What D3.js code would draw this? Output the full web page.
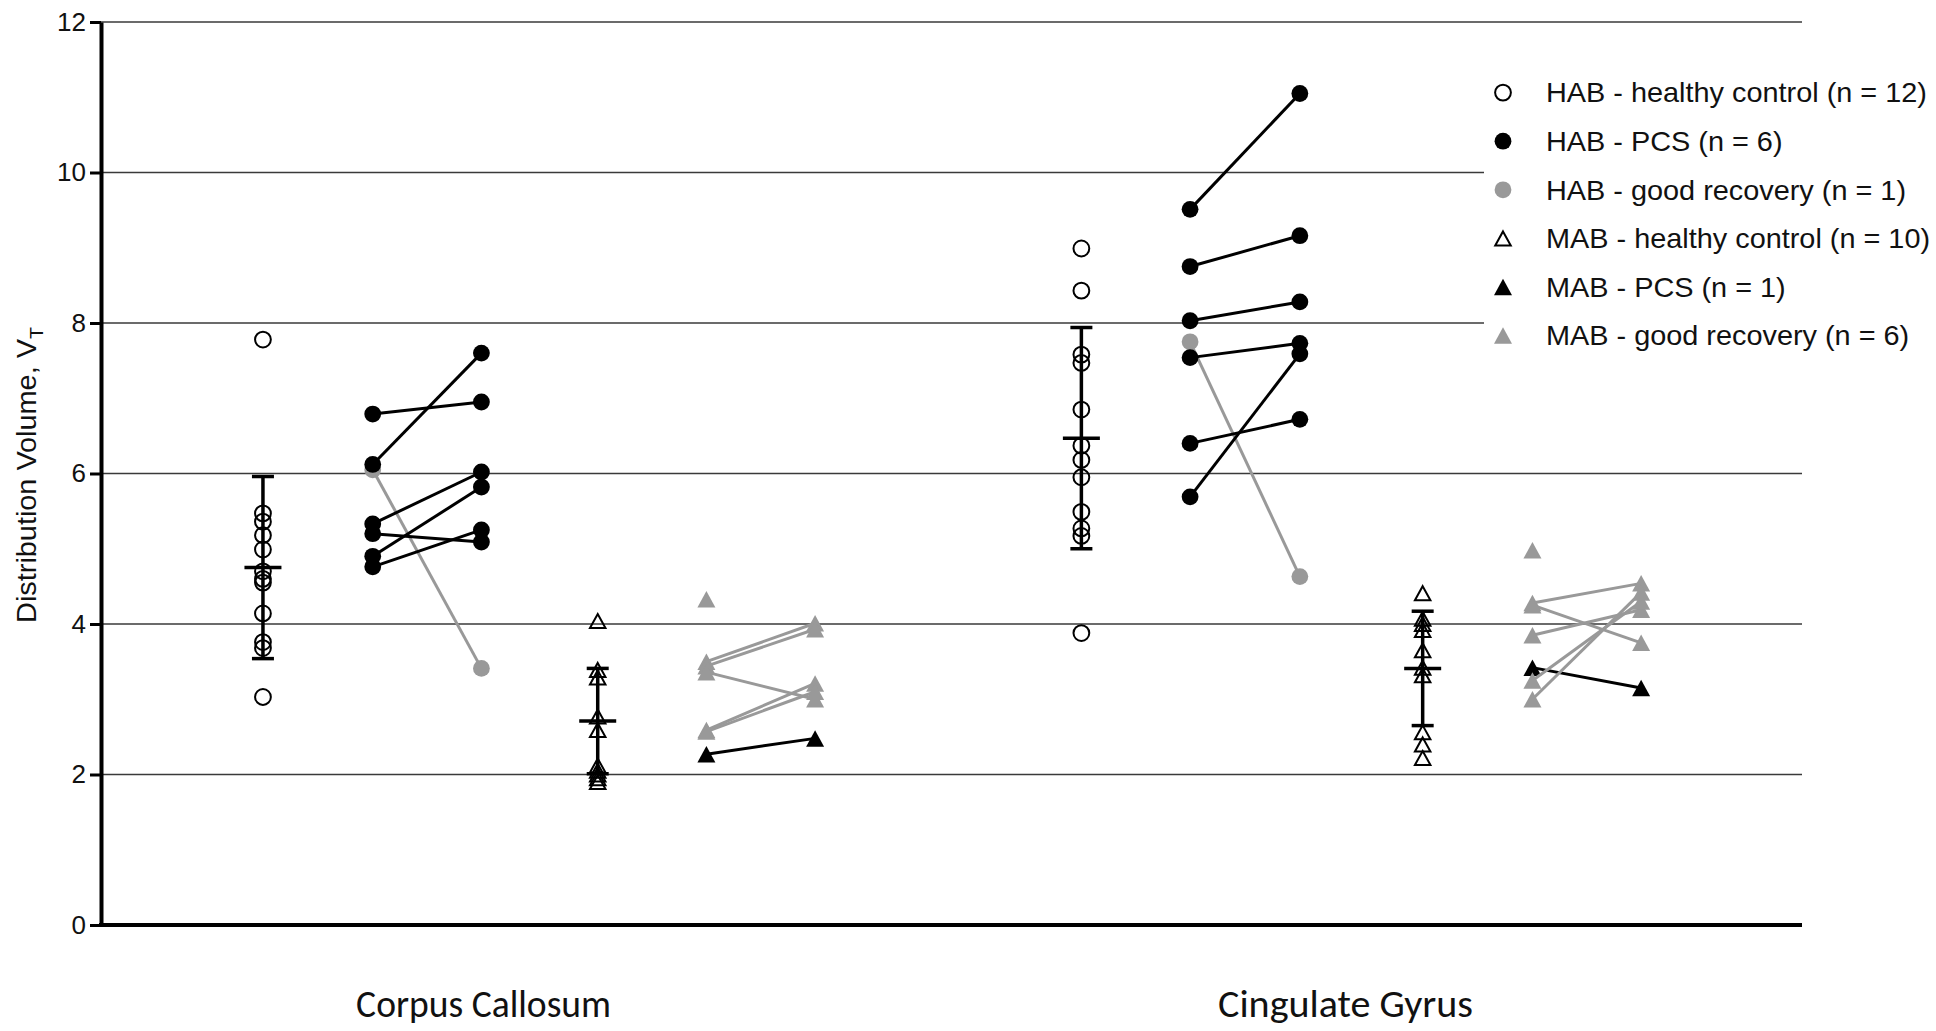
<!DOCTYPE html>
<html>
<head>
<meta charset="utf-8">
<script src="https://d3js.org/d3.v7.min.js"></script>
<style>
  html, body { margin: 0; padding: 0; background: #fff; }
  svg { display: block; }
</style>
</head>
<body>
<svg id="chart"></svg>
<script>
// Distribution volume (VT) per region: healthy controls (mean +/- SD) and
// paired baseline / follow-up values for PCS and good-recovery patients.

const regions = ["Corpus Callosum", "Cingulate Gyrus"];

// healthy controls, one array per region
const habControl = [
    [7.78, 5.47, 5.36, 5.18, 4.99, 4.70, 4.60, 4.55, 4.14, 3.76, 3.68, 3.03],
    [8.99, 8.43, 7.58, 7.47, 6.85, 6.37, 6.18, 5.95, 5.49, 5.27, 5.17, 3.88]
];
const mabControl = [
    [4.04, 3.39, 3.29, 2.77, 2.59, 2.12, 2.05, 2.00, 1.95, 1.90],
    [4.41, 4.07, 4.00, 3.92, 3.65, 3.42, 3.32, 2.56, 2.40, 2.22]
];
// error bars (mean, SD)
const habControlMean = [4.75, 6.47];
const habControlSD = [1.21, 1.47];
const mabControlMean = [2.71, 3.41];
const mabControlSD = [0.70, 0.76];

// patients: baseline -> follow-up (null = no follow-up scan)
const habPcsPre = [[6.79, 6.12, 5.33, 5.20, 4.90, 4.76], [9.51, 8.75, 8.03, 7.54, 6.40, 5.69]];
const habPcsPost = [[6.95, 7.60, 6.02, 5.09, 5.82, 5.25], [11.05, 9.16, 8.28, 7.73, 6.72, 7.59]];
const habRecPre = [[6.05], [7.75]];
const habRecPost = [[3.41], [4.63]];
const mabPcsPre = [[2.27], [3.42]];
const mabPcsPost = [[2.48], [3.15]];
const mabRecPre = [[4.33, 3.50, 3.44, 3.36, 2.59, 2.57], [4.98, 4.28, 4.25, 3.85, 3.25, 3.00]];
const mabRecPost = [[null, 4.01, 3.93, 3.00, 3.21, 3.10], [null, 4.54, 3.75, 4.19, 4.30, 4.42]];

const yTicks = [0, 2, 4, 6, 8, 10, 12];
const legendLabels = [
    "HAB - healthy control (n = 12)",
    "HAB - PCS (n = 6)",
    "HAB - good recovery (n = 1)",
    "MAB - healthy control (n = 10)",
    "MAB - PCS (n = 1)",
    "MAB - good recovery (n = 6)"
];

// ---- layout ----
const width = 1936, height = 1031;
const margin = {top: 22, right: 134, bottom: 106, left: 101};
const GRAY = "#999999";

// column slots (x scale units) for each region
const slots = [
    {habHc: 1.49, habPre: 2.50, habPost: 3.50, mabHc: 4.57, mabPre: 5.57, mabPost: 6.57, label: 3.52},
    {habHc: 9.02, habPre: 10.02, habPost: 11.03, mabHc: 12.16, mabPre: 13.17, mabPost: 14.17, label: 11.45}
];

const svg = d3.select("#chart").attr("width", width).attr("height", height);

const x = d3.scaleLinear().domain([0, 15.65]).range([margin.left, width - margin.right]);
const y = d3.scaleLinear().domain([0, 12]).range([height - margin.bottom, margin.top]);

// triangle with its box centred on the point
function triangle(w, h) {
    return `M0,${-h / 2}L${w / 2},${h / 2}L${-w / 2},${h / 2}Z`;
}

const markers = {
    circleOpen: g => g.append("circle").attr("r", 7.9).attr("fill", "none").attr("stroke", "#000").attr("stroke-width", 2),
    circleBlack: g => g.append("circle").attr("r", 8.4).attr("fill", "#000"),
    circleGray: g => g.append("circle").attr("r", 8.4).attr("fill", GRAY),
    triOpen: g => g.append("path").attr("d", triangle(15.5, 14)).attr("fill", "none").attr("stroke", "#000").attr("stroke-width", 2),
    triBlack: g => g.append("path").attr("d", triangle(18, 16.5)).attr("fill", "#000"),
    triGray: g => g.append("path").attr("d", triangle(18, 16.5)).attr("fill", GRAY)
};

// gridlines
svg.append("g")
    .selectAll("line")
    .data(yTicks.filter(t => t > 0))
    .join("line")
    .attr("x1", margin.left).attr("x2", width - margin.right)
    .attr("y1", d => y(d)).attr("y2", d => y(d))
    .attr("stroke", "#3a3a3a")
    .attr("stroke-width", 1.3);

// legend background hides the gridlines behind it
svg.append("rect")
    .attr("x", 1484).attr("y", 55).attr("width", width - 1484).attr("height", 300)
    .attr("fill", "#fff");

// y axis
const yAxis = svg.append("g")
    .attr("transform", `translate(${margin.left},0)`)
    .call(d3.axisLeft(y).tickValues(yTicks).tickSize(11).tickSizeOuter(0).tickPadding(4));
yAxis.select(".domain").attr("stroke-width", 4).attr("stroke", "#000");
yAxis.selectAll(".tick line").attr("stroke-width", 3).attr("stroke", "#000");
yAxis.selectAll(".tick text")
    .attr("fill", "#111")
    .style("font-family", "'Liberation Sans', Arial, sans-serif")
    .style("font-size", "26px");

// x axis line
svg.append("line")
    .attr("x1", margin.left - 2).attr("x2", width - margin.right)
    .attr("y1", y(0)).attr("y2", y(0))
    .attr("stroke", "#000").attr("stroke-width", 4);

// y axis title, squeezed to the width seen in the figure
const yTitle = svg.append("text")
    .attr("transform", `translate(36,475) rotate(-90)`)
    .attr("text-anchor", "middle")
    .style("font-family", "'Liberation Sans', Arial, sans-serif")
    .style("font-size", "28px")
    .attr("fill", "#111");
yTitle.append("tspan").text("Distribution Volume, V");
yTitle.append("tspan").text("T").attr("font-size", "19px").attr("dy", 7);
const yTitleLen = yTitle.node().getComputedTextLength();
yTitle.attr("transform", `translate(36,475) rotate(-90) scale(${296 / yTitleLen},1)`);

// category labels
regions.forEach((name, r) => {
    const t = svg.append("text")
        .attr("x", 0).attr("y", 0)
        .attr("text-anchor", "middle")
        .style("font-family", "Carlito, Lato, 'Open Sans', sans-serif")
        .style("font-size", "38px")
        .attr("fill", "#111")
        .text(name);
    const len = t.node().getComputedTextLength();
    t.attr("transform", `translate(${x(slots[r].label)},1017) scale(${255 / len},1)`);
});

// draw one paired series
function drawPairs(g, pre, post, x0, x1, color, marker) {
    const pairs = pre.map((v, i) => ({pre: v, post: post[i]}));
    g.append("g")
        .selectAll("line")
        .data(pairs.filter(d => d.post != null))
        .join("line")
        .attr("x1", x0).attr("x2", x1)
        .attr("y1", d => y(d.pre)).attr("y2", d => y(d.post))
        .attr("stroke", color).attr("stroke-width", 3);
    const pts = [];
    pairs.forEach(d => {
        pts.push({cx: x0, v: d.pre});
        if (d.post != null) pts.push({cx: x1, v: d.post});
    });
    g.append("g")
        .selectAll("g")
        .data(pts)
        .join("g")
        .attr("transform", d => `translate(${d.cx},${y(d.v)})`)
        .each(function () { marker(d3.select(this)); });
}

function drawControl(g, values, mean, sd, cx, marker) {
    g.append("g")
        .selectAll("g")
        .data(values)
        .join("g")
        .attr("transform", d => `translate(${cx},${y(d)})`)
        .each(function () { marker(d3.select(this)); });
    const bar = g.append("g").attr("stroke", "#000").attr("stroke-width", 3.5);
    bar.append("line").attr("x1", cx).attr("x2", cx).attr("y1", y(mean - sd)).attr("y2", y(mean + sd));
    bar.append("line").attr("x1", cx - 11).attr("x2", cx + 11).attr("y1", y(mean + sd)).attr("y2", y(mean + sd));
    bar.append("line").attr("x1", cx - 11).attr("x2", cx + 11).attr("y1", y(mean - sd)).attr("y2", y(mean - sd));
    bar.append("line").attr("x1", cx - 18.5).attr("x2", cx + 18.5).attr("y1", y(mean)).attr("y2", y(mean));
}

regions.forEach((name, r) => {
    const s = slots[r];
    const g = svg.append("g").attr("class", "region");
    drawControl(g, habControl[r], habControlMean[r], habControlSD[r], x(s.habHc), markers.circleOpen);
    drawPairs(g, habRecPre[r], habRecPost[r], x(s.habPre), x(s.habPost), GRAY, markers.circleGray);
    drawPairs(g, habPcsPre[r], habPcsPost[r], x(s.habPre), x(s.habPost), "#000", markers.circleBlack);

    drawControl(g, mabControl[r], mabControlMean[r], mabControlSD[r], x(s.mabHc), markers.triOpen);
    drawPairs(g, mabPcsPre[r], mabPcsPost[r], x(s.mabPre), x(s.mabPost), "#000", markers.triBlack);
    drawPairs(g, mabRecPre[r], mabRecPost[r], x(s.mabPre), x(s.mabPost), GRAY, markers.triGray);
});

// legend
const legendMarkers = [markers.circleOpen, markers.circleBlack, markers.circleGray,
                       markers.triOpen, markers.triBlack, markers.triGray];
const legend = svg.append("g").attr("transform", "translate(1503,92.6)");
const rows = legend.selectAll("g")
    .data(legendLabels)
    .join("g")
    .attr("transform", (d, i) => `translate(0,${i * 48.6})`);
rows.each(function (d, i) { legendMarkers[i](d3.select(this)); });
const legendText = rows.append("text")
    .attr("x", 43)
    .attr("dy", "0.36em")
    .style("font-family", "'Liberation Sans', Arial, sans-serif")
    .style("font-size", "27px")
    .attr("fill", "#111")
    .text(d => d);
const legendScale = 381 / legendText.node().getComputedTextLength();
legendText.attr("transform", `translate(43,0) scale(${legendScale},1) translate(-43,0)`);
</script>
</body>
</html>
